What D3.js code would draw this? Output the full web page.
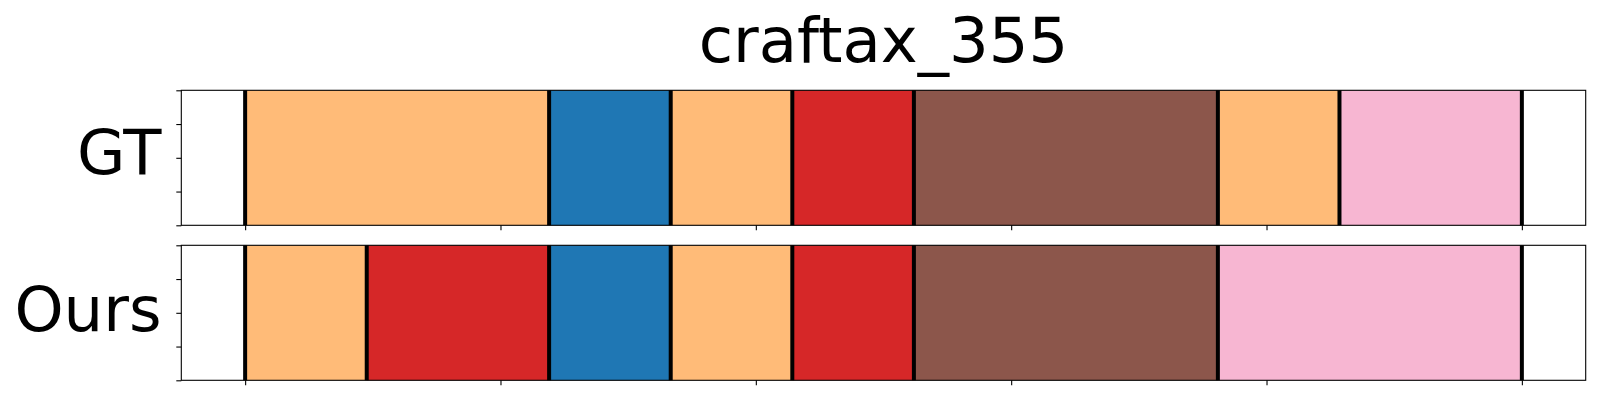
<!DOCTYPE html>
<html>
<head>
<meta charset="utf-8">
<script src="https://cdn.jsdelivr.net/npm/d3@7"></script>
<style>
  html, body { margin: 0; padding: 0; background: #fff; }
  svg { display: block; font-family: "DejaVu Sans", sans-serif; }
</style>
</head>
<body>
<svg id="chart" width="1600" height="400"></svg>
<script>
// ---- data ----
const title = "craftax_355";
const rowLabels = ["GT", "Ours"];
// segment classes and lengths (in frames) per row
const gtClasses = ["orange", "blue", "orange", "red", "brown", "orange", "pink"];
const gtLengths = [5, 2, 2, 2, 5, 2, 3];
const oursClasses = ["orange", "red", "blue", "orange", "red", "brown", "pink"];
const oursLengths = [2, 3, 2, 2, 2, 5, 5];
const classColors = { orange: "#ffbb78", blue: "#1f77b4", red: "#d62728", brown: "#8c564b", pink: "#f7b6d2" };
const xTicks = [0, 0.2, 0.4, 0.6, 0.8, 1.0];
const yTicks = [0, 0.25, 0.5, 0.75, 1.0];

const rows = [
  { label: rowLabels[0], classes: gtClasses, lengths: gtLengths },
  { label: rowLabels[1], classes: oursClasses, lengths: oursLengths }
];

const svg = d3.select("#chart");
const left = 181.3, right = 1585.7;
const panelTops = [90.3, 245.3];
const panelH = 135;

const x = d3.scaleLinear().domain([-0.05, 1.05]).range([left, right]);

svg.append("text")
  .attr("x", (left + right) / 2)
  .attr("y", 62.3)
  .attr("text-anchor", "middle")
  .attr("font-size", 62.5)
  .attr("fill", "#000")
  .text(title);

rows.forEach((row, i) => {
  const top = panelTops[i];
  const y = d3.scaleLinear().domain([0, 1]).range([top + panelH, top]);
  const g = svg.append("g");
  const total = d3.sum(row.lengths);
  const cum = [0];
  row.lengths.forEach(l => cum.push(cum[cum.length - 1] + l));
  const segs = row.classes.map((c, k) => ({ c, s: cum[k] / total, e: cum[k + 1] / total }));

  g.selectAll("rect.seg").data(segs).enter().append("rect")
    .attr("class", "seg")
    .attr("x", d => x(d.s))
    .attr("y", y(1))
    .attr("width", d => x(d.e) - x(d.s))
    .attr("height", y(0) - y(1))
    .attr("fill", d => classColors[d.c]);

  const bounds = cum.map(v => v / total);
  g.selectAll("line.bd").data(bounds).enter().append("line")
    .attr("x1", d => x(d)).attr("x2", d => x(d))
    .attr("y1", y(1)).attr("y2", y(0))
    .attr("stroke", "#000").attr("stroke-width", 4);

  // axes
  const xAxis = d3.axisBottom(x).tickValues(xTicks).tickSize(5).tickFormat("");
  const gx = g.append("g").attr("transform", `translate(0,${y(0)})`).call(xAxis);
  gx.select(".domain").remove();
  gx.selectAll(".tick line").attr("stroke-width", 1.1);

  const yAxis = d3.axisLeft(y).tickValues(yTicks).tickSize(5).tickFormat("");
  const gy = g.append("g").attr("transform", `translate(${left},0)`).call(yAxis);
  gy.select(".domain").remove();
  gy.selectAll(".tick line").attr("stroke-width", 1.1);

  g.append("rect")
    .attr("x", left).attr("y", y(1))
    .attr("width", right - left).attr("height", y(0) - y(1))
    .attr("fill", "none").attr("stroke", "#000").attr("stroke-width", 1.1);

  g.append("text")
    .attr("x", 161.5)
    .attr("y", i === 0 ? 174 : 331)
    .attr("text-anchor", "end")
    .attr("font-size", 62.5)
    .attr("fill", "#000")
    .text(row.label);
});
</script>
</body>
</html>
